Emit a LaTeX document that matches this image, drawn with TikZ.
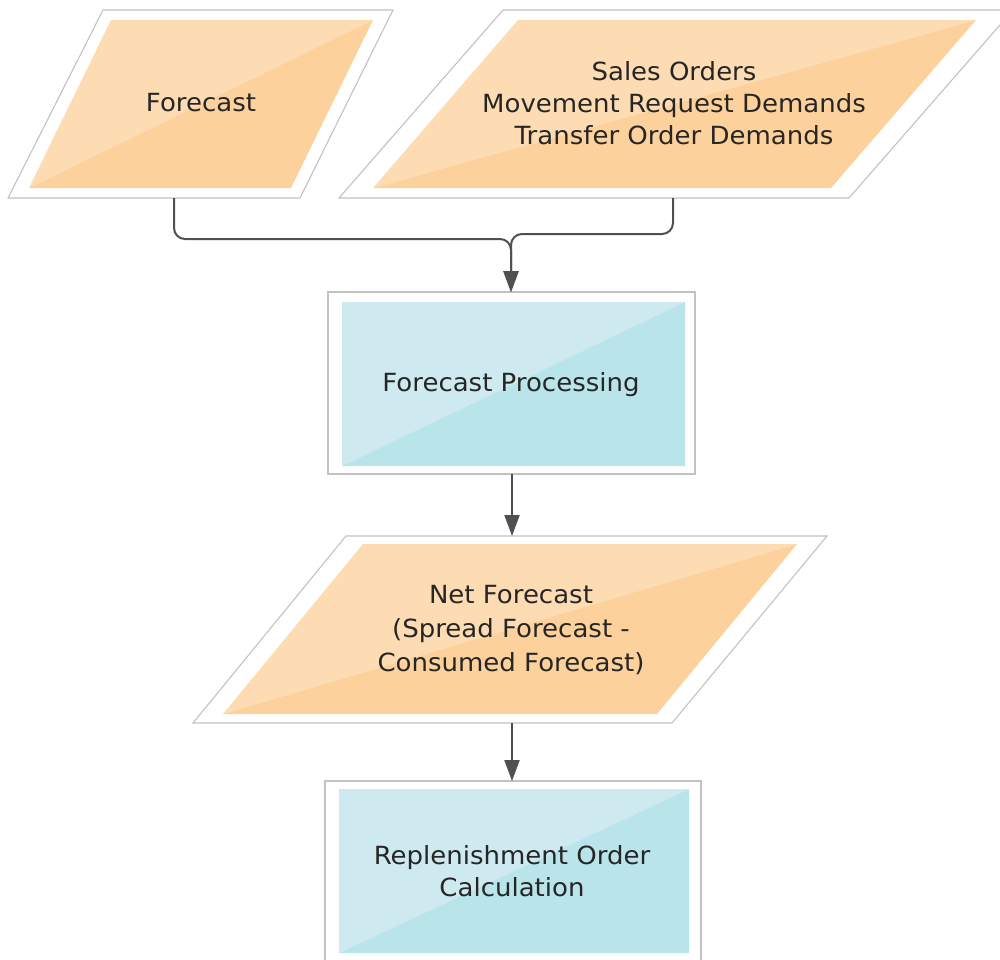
\documentclass[tikz,border=0pt]{standalone}
\usepackage{fontspec}
\setmainfont{DejaVu Sans}[FakeStretch=1.04]
\usetikzlibrary{arrows.meta}
\definecolor{orLight}{HTML}{FEDCB3}
\definecolor{orDark}{HTML}{FDD19B}
\definecolor{blLight}{HTML}{CEEAF0}
\definecolor{blDark}{HTML}{B9E4EA}
\definecolor{frameGray}{HTML}{C2C2C2}
\definecolor{connGray}{HTML}{505050}
\definecolor{txtGray}{HTML}{262626}
\tikzset{
  frame/.style={draw=frameGray, line width=1.1pt, fill=white},
  conn/.style={draw=connGray, line width=2pt, -{Triangle[length=21pt,width=15pt]}},
  lbl/.style={text=txtGray, align=center, font=\fontsize{25pt}{32pt}\selectfont, inner sep=0pt},
}
\begin{document}
\begin{tikzpicture}[x=1pt,y=-1pt]
\useasboundingbox (0,0) rectangle (1000,959);
% Forecast
\draw[frame] (103,10) -- (393,10) -- (300,198) -- (8,198) -- cycle;
\fill[orLight] (111,20) -- (373,20) -- (29,188) -- cycle;
\fill[orDark] (373,20) -- (291,188) -- (29,188) -- cycle;
\node[lbl] (fc) at (201,103) {Forecast};
% Sales orders etc.
\draw[frame] (503,10) -- (1013,10) -- (849,198) -- (339,198) -- cycle;
\fill[orLight] (518,20) -- (976,20) -- (373,188) -- cycle;
\fill[orDark] (976,20) -- (831,188) -- (373,188) -- cycle;
\node[lbl] (so) at (674,103) {Sales Orders\\Movement Request Demands\\Transfer Order Demands};
% Forecast Processing
\draw[frame] (328,292) rectangle (695,474);
\fill[blLight] (342,302) -- (685,302) -- (342,466) -- cycle;
\fill[blDark] (685,302) -- (685,466) -- (342,466) -- cycle;
\node[lbl] (fp) at (511,385) {Forecast Processing};
% Net Forecast
\draw[frame] (346,536) -- (827,536) -- (672,723) -- (193,723) -- cycle;
\fill[orLight] (363,544) -- (797,544) -- (223,714) -- cycle;
\fill[orDark] (797,544) -- (657,714) -- (223,714) -- cycle;
\node[lbl, font=\fontsize{25pt}{34pt}\selectfont] (nf) at (511,630) {Net Forecast\\(Spread Forecast -\\Consumed Forecast)};
% Replenishment
\draw[frame] (325,781) rectangle (701,975);
\fill[blLight] (339,789) -- (689,789) -- (339,953) -- cycle;
\fill[blDark] (689,789) -- (689,953) -- (339,953) -- cycle;
\node[lbl] (ro) at (512,871) {Replenishment Order\\Calculation};
% connector points
\coordinate (fcOut) at (174,198);
\coordinate (soOut) at (673,198);
\coordinate (fpIn) at (511,292);
\coordinate (fpOut) at (512,474);
\coordinate (nfIn) at (512,536);
\coordinate (nfOut) at (512,723);
\coordinate (roIn) at (512,781);
\draw[conn, rounded corners=11pt] (fcOut) |- (fpIn |- 0,239) -- (fpIn);
\draw[conn, rounded corners=11pt] (soOut) |- (fpIn |- 0,234) -- (fpIn);
\draw[conn] (fpOut) -- (nfIn);
\draw[conn] (nfOut) -- (roIn);
\end{tikzpicture}
\end{document}
